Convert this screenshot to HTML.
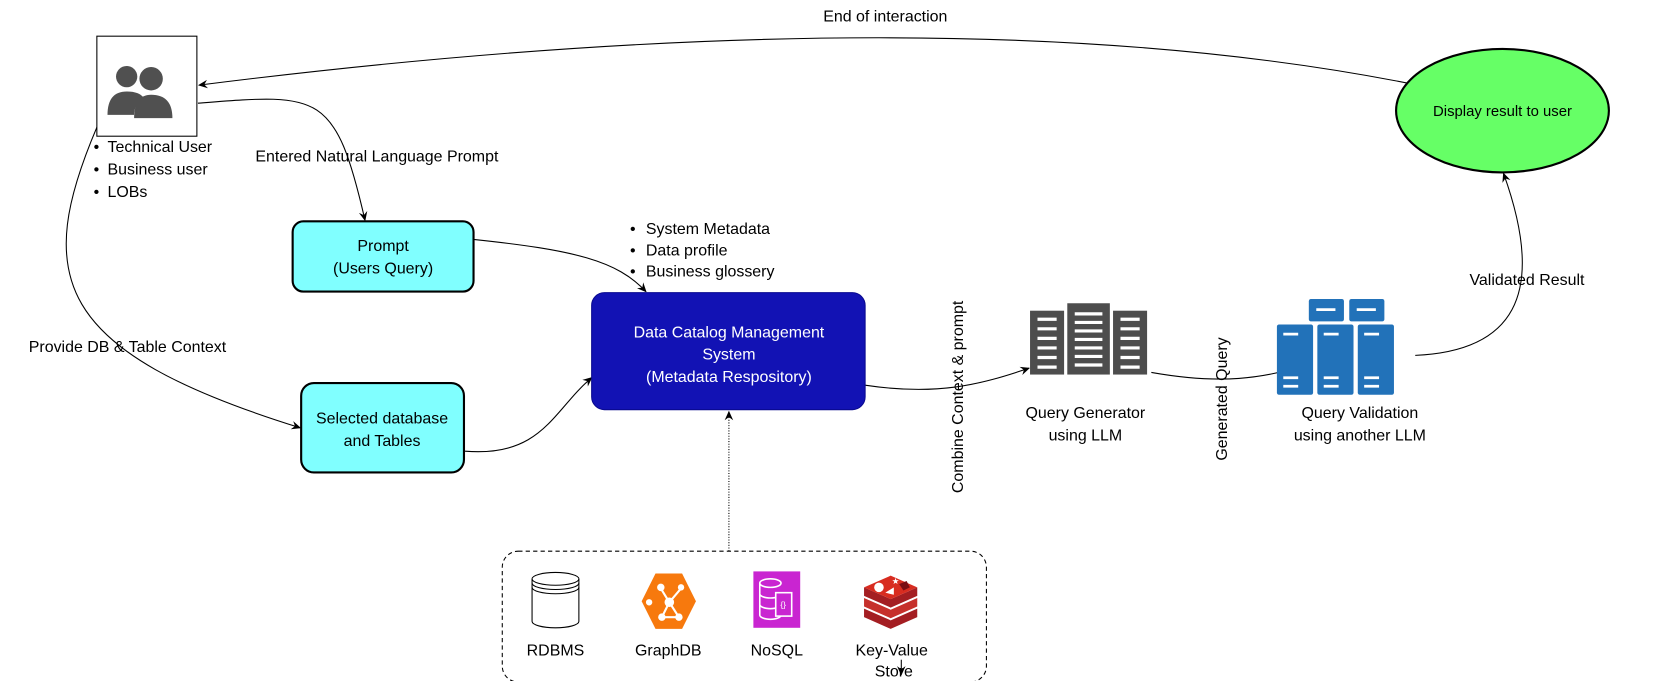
<!DOCTYPE html>
<html><head><meta charset="utf-8"><style>
html,body{margin:0;padding:0;background:#fff;}
svg{display:block;}
text{font-family:"Liberation Sans",Arial,sans-serif;fill:#000;}
text.w{fill:#fff;}
</style></head><body>
<svg width="1660" height="681" viewBox="0 0 1560 640" xmlns="http://www.w3.org/2000/svg">
<defs>
<marker id="a" markerWidth="10" markerHeight="10" refX="8" refY="5" orient="auto" markerUnits="userSpaceOnUse">
<path d="M0,1 L9,5 L0,9 L3,5 Z" fill="#000"/></marker>
</defs>
<rect width="1560" height="640" fill="#fff"/>

<g fill="none" stroke="#000" stroke-width="1">
<path d="M1342,82 Q 900,-10 187,80" marker-end="url(#a)"/>
<path d="M186,97 C 300,88 315,85 343,207" marker-end="url(#a)"/>
<path d="M93,115 C 30,260 50,330 282,402" marker-end="url(#a)"/>
<path d="M445,225 C 540,235 580,245 607,274" marker-end="url(#a)"/>
<path d="M437,424 C 510,430 520,385 556,355" marker-end="url(#a)"/>
<path d="M813,362 C 880,372 920,362 967,346" marker-end="url(#a)"/>
<path d="M1082,350 C 1150,362 1185,355 1226,344" marker-end="url(#a)"/>
<path d="M1330,334 C 1420,330 1455,280 1413,163" marker-end="url(#a)"/>
<path d="M685,518 L685,387" stroke-dasharray="1,1.5" marker-end="url(#a)"/>
<path d="M847,620 L847,634" marker-end="url(#a)"/>
</g>

<rect x="91" y="34" width="94" height="94" fill="#fff" stroke="#000" stroke-width="1"/>
<g fill="#505050">
<circle cx="119" cy="72" r="10"/>
<path d="M101,108 Q101,86 119,86 Q131,86 135,92 Q126,98 126,108 Z"/>
<circle cx="142" cy="74" r="11"/>
<path d="M126,111 Q126,89 142,89 Q162,89 162,111 Z"/>
</g>
<g font-size="15">
<text x="88" y="143">•</text><text x="101" y="143">Technical User</text>
<text x="88" y="164">•</text><text x="101" y="164">Business user</text>
<text x="88" y="185">•</text><text x="101" y="185">LOBs</text>
</g>

<text x="240" y="152" font-size="15">Entered Natural Language Prompt</text>
<text x="27" y="331" font-size="15">Provide DB &amp; Table Context</text>
<text x="832" y="20" font-size="15" text-anchor="middle">End of interaction</text>
<text x="1435" y="268" font-size="15" text-anchor="middle">Validated Result</text>

<rect x="275" y="208" width="170" height="66" rx="10" fill="#80ffff" stroke="#000" stroke-width="2"/>
<text x="360" y="236" font-size="15" text-anchor="middle">Prompt</text>
<text x="360" y="257" font-size="15" text-anchor="middle">(Users Query)</text>

<rect x="283" y="360" width="153" height="84" rx="12" fill="#80ffff" stroke="#000" stroke-width="2"/>
<text x="359" y="398" font-size="15" text-anchor="middle">Selected database</text>
<text x="359" y="419" font-size="15" text-anchor="middle">and Tables</text>

<g font-size="15">
<text x="592" y="220">•</text><text x="607" y="220">System Metadata</text>
<text x="592" y="240">•</text><text x="607" y="240">Data profile</text>
<text x="592" y="260">•</text><text x="607" y="260">Business glossery</text>
</g>

<rect x="556" y="275" width="257" height="110" rx="12" fill="#1212b4" stroke="#0a0a90" stroke-width="1"/>
<text class="w" x="685" y="317" font-size="15" text-anchor="middle" style="fill:#fff">Data Catalog Management</text>
<text class="w" x="685" y="338" font-size="15" text-anchor="middle" style="fill:#fff">System</text>
<text class="w" x="685" y="359" font-size="15" text-anchor="middle" style="fill:#fff">(Metadata Respository)</text>

<g fill="#4d4d4d">
<rect x="968" y="292" width="32" height="60"/>
<rect x="1003" y="285" width="40" height="67"/>
<rect x="1046" y="292" width="32" height="60"/>
</g>
<g stroke="#fff" stroke-width="3">
<path d="M975,300h18M975,309h18M975,318h18M975,327h18M975,336h18M975,345h18"/>
<path d="M1010,295h26M1010,303h26M1010,311h26M1010,319h26M1010,327h26M1010,335h26M1010,343h26"/>
<path d="M1053,300h18M1053,309h18M1053,318h18M1053,327h18M1053,336h18M1053,345h18"/>
</g>
<text x="1020" y="393" font-size="15" text-anchor="middle">Query Generator</text>
<text x="1020" y="414" font-size="15" text-anchor="middle">using LLM</text>

<g fill="#2272b9">
<rect x="1230" y="281" width="33" height="21" rx="2"/>
<rect x="1268" y="281" width="33" height="21" rx="2"/>
<rect x="1200" y="305" width="34" height="66" rx="2"/>
<rect x="1238" y="305" width="34" height="66" rx="2"/>
<rect x="1276" y="305" width="34" height="66" rx="2"/>
</g>
<g stroke="#fff" stroke-width="2.5">
<path d="M1237,291h18M1275,291h18M1206,314h14M1244,314h14M1282,314h14M1206,355h14M1244,355h14M1282,355h14M1206,363h14M1244,363h14M1282,363h14"/>
</g>
<text x="1278" y="393" font-size="15" text-anchor="middle">Query Validation</text>
<text x="1278" y="414" font-size="15" text-anchor="middle">using another LLM</text>

<text transform="translate(905,373) rotate(-90)" font-size="15" text-anchor="middle">Combine Context &amp; prompt</text>
<text transform="translate(1153,375) rotate(-90)" font-size="15" text-anchor="middle">Generated Query</text>

<ellipse cx="1412" cy="104" rx="100" ry="58" fill="#66ff66" stroke="#000" stroke-width="2"/>
<text x="1412" y="109" font-size="14" text-anchor="middle">Display result to user</text>

<rect x="472" y="518" width="455" height="123" rx="15" fill="none" stroke="#000" stroke-dasharray="4,3"/>

<g fill="#fff" stroke="#000" stroke-width="1">
<path d="M500,544 L500,584 A22,6 0 0 0 544,584 L544,544"/>
<ellipse cx="522" cy="544" rx="22" ry="6"/>
<path d="M500,548 A22,6 0 0 0 544,548 M500,552 A22,6 0 0 0 544,552" fill="none"/>
</g>
<text x="522" y="616" font-size="15" text-anchor="middle">RDBMS</text>

<polygon points="616,539 641,539 654,565 641,591 616,591 603,565" fill="#f7790d"/>
<g stroke="#fff" stroke-width="2" fill="none">
<path d="M621,553 L629,566 L640,553 M629,566 L622,580 L638,580 L629,566"/>
</g>
<g fill="#fff">
<circle cx="621" cy="552" r="3.5"/><circle cx="640" cy="552" r="3"/>
<circle cx="629" cy="566" r="4.5"/><circle cx="610" cy="566" r="3"/>
<circle cx="622" cy="580" r="3.5"/><circle cx="638" cy="580" r="3.5"/>
</g>
<text x="628" y="616" font-size="15" text-anchor="middle">GraphDB</text>

<rect x="708" y="537" width="44" height="53" fill="#c925d1"/>
<g stroke="#fff" stroke-width="1.5" fill="none">
<ellipse cx="724" cy="548" rx="10" ry="4"/>
<path d="M714,548 V578 A10,4 0 0 0 734,578 M714,558 A10,4 0 0 0 734,558 M714,568 A10,4 0 0 0 734,568"/>
<rect x="729" y="557" width="15" height="22" fill="#c925d1"/>
</g>
<text class="w" x="736" y="571" font-size="8" text-anchor="middle" style="fill:#fff">{}</text>
<text x="730" y="616" font-size="15" text-anchor="middle">NoSQL</text>

<g>
<path d="M812,572 L837,583 L862,572 L862,580 L837,591 L812,580 Z" fill="#a41e22"/>
<path d="M812,562 L837,573 L862,562 L862,570 L837,581 L812,570 Z" fill="#c6302b"/>
<path d="M812,552 L837,563 L862,552 L862,560 L837,571 L812,560 Z" fill="#a41e22"/>
<path d="M812,552 L837,541 L862,552 L837,563 Z" fill="#d82c20"/>
<circle cx="826" cy="552" r="4.5" fill="#fff"/>
<polygon points="832,557 840,552 840,559" fill="#fff"/>
<polygon points="845,549 852,546 855,552 849,555" fill="#7a0c12"/>
<text class="w" x="838" y="549" font-size="8" style="fill:#fff">★</text>
</g>
<text x="838" y="616" font-size="15" text-anchor="middle">Key-Value</text>
<text x="840" y="636" font-size="15" text-anchor="middle">Store</text>
</svg>
</body></html>
